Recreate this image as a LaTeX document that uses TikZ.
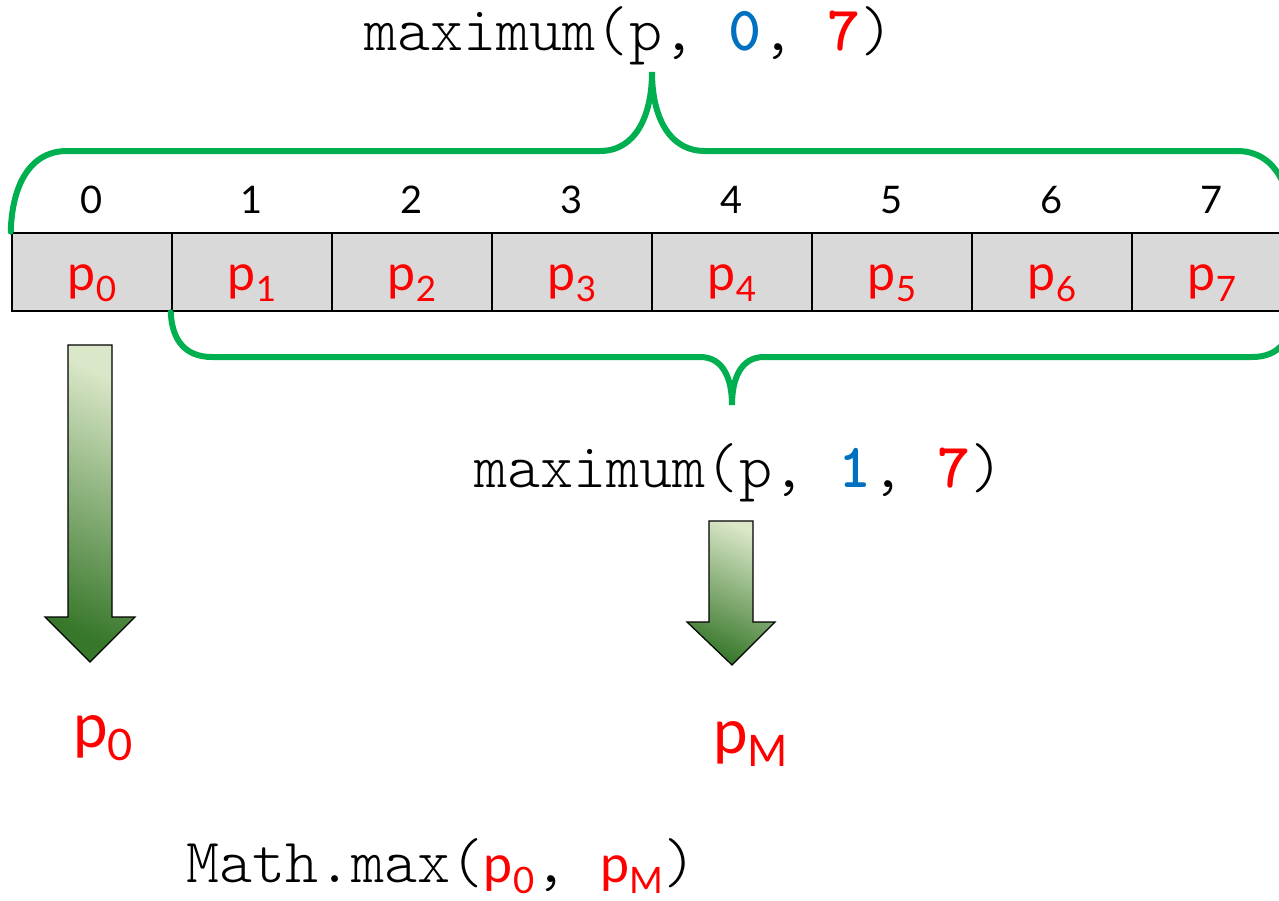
\documentclass[tikz,border=0pt]{standalone}
\usepackage{fontspec}
\setmonofont{Latin Modern Mono Light}
\newfontfamily\lblfont{Lato}
\usepackage{xcolor}
\usepackage{tikz}
\usetikzlibrary{positioning}
\definecolor{BraceGreen}{HTML}{00B050}
\definecolor{CellGray}  {HTML}{D9D9D9}
\definecolor{CallRed}   {HTML}{FF0000}
\definecolor{CallBlue}  {HTML}{0070C0}
\definecolor{ArrLight}  {HTML}{DAE7C8}
\definecolor{ArrMid}    {HTML}{9FBB72}
\definecolor{ArrDark}   {HTML}{37772A}
\newcommand{\psub}[1]{p\raisebox{-0.22em}{\scalebox{0.7}{#1}}}
\newcommand{\argnum}[2]{\textcolor{#1}{\bfseries #2}}
\newcommand{\pcode}[1]{{\lblfont\fontsize{52}{58}\selectfont\color{CallRed}\psub{#1}}}
\tikzset{
  cellbox/.style={draw=black,fill=CellGray,line width=2.5pt,minimum width=160pt,
                  minimum height=78pt,inner sep=0pt},
  idxlbl/.style={font=\fontsize{38}{42}\selectfont\lblfont,anchor=base,inner sep=0pt},
  plbl/.style={font=\fontsize{50}{56}\selectfont\lblfont,text=CallRed,anchor=base,inner sep=0pt},
  bigp/.style={font=\fontsize{62}{68}\selectfont\lblfont,text=CallRed,anchor=base west,inner sep=0pt},
  codelbl/.style={font=\fontsize{63}{70}\selectfont\ttfamily,anchor=base,inner sep=0pt},
  brace/.style={draw=BraceGreen,line width=6pt,line cap=round},
  blockarr/.style={draw=black,line width=1.2pt,top color=ArrLight,middle color=ArrMid,
                   bottom color=ArrDark,shading angle=-25}
}

\begin{document}
\begin{tikzpicture}[x=1pt,y=-1pt]
    \useasboundingbox (0,0) rectangle (1279,900);
    % the array p, index above every cell
    \foreach \i in {0,...,7}{
      \node[cellbox] (c\i) at ({92+160*\i},272) {};
      \node[idxlbl] (idx\i) at ([yshift=18pt]c\i.north) {\i};
      \node[plbl] (p\i) at ([yshift=-18pt]c\i.center) {\psub{\i}};
    }
    % brace over cells 0..7
    \draw[brace] (c0.north west) .. controls (12,185) and (30,151) .. (67,151)
      -- (600,151) .. controls (636,151) and (652,115) .. (652,72)
      .. controls (652,115) and (668,151) .. (705,151)
      -- (1237,151) .. controls (1274,151) and (1292,185) .. (1292,233);
    % brace under cells 1..7
    \draw[brace] (c1.south west) .. controls (172,340) and (185,357) .. (212,357)
      -- (700,357) .. controls (724,357) and (732,380) .. (732,405)
      .. controls (732,380) and (740,357) .. (764,357)
      -- (1252,357) .. controls (1279,357) and (1292,340) .. (1292,311);
    % the two calls
    \node[codelbl] (callAll) at (629,50)
      {maximum(p, \argnum{CallBlue}{0}, \argnum{CallRed}{7})};
    \node[codelbl] (callRest) at (739,487)
      {maximum(p, \argnum{CallBlue}{1}, \argnum{CallRed}{7})};
    % arrows down to the results
    \path[blockarr] (68,345) -- (112,345) -- (112,617) -- (135,617) -- (90,662)
      -- (45,617) -- (68,617) -- cycle;
    \path[blockarr] (709,521) -- (753,521) -- (753,622) -- (775,622) -- (732,665)
      -- (687,622) -- (709,622) -- cycle;
    \node[bigp] (res0) at (73,747) {\psub{0}};
    \node[bigp] (resM) at (713,753) {\psub{M}};
    % combine both
    \node[codelbl,anchor=base west] (combine) at (186,882)
      {Math.max(\pcode{0}, \pcode{M})};
\end{tikzpicture}
\end{document}
